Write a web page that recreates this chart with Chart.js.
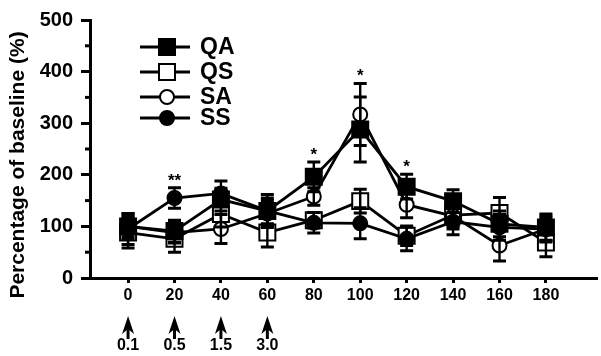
<!DOCTYPE html>
<html>
<head>
<meta charset="utf-8">
<script src="https://cdn.jsdelivr.net/npm/chart.js@4/dist/chart.umd.min.js"></script>
<style>
  html, body { margin: 0; padding: 0; background: #fff; }
  #wrap { width: 601px; height: 356px; }
</style>
</head>
<body>
<div id="wrap"><canvas id="chart"></canvas></div>
<script>
// time after first injection (min)
const times = [0, 20, 40, 60, 80, 100, 120, 140, 160, 180];

// percentage of baseline
const qa = [100, 91, 152, 130, 196, 288, 177, 149, 105, 98];
const qs = [88, 76, 124, 88, 112, 149, 82, 122, 126, 69];
const sa = [100, 88, 95, 125, 158, 317, 142, 120, 63, 95];
const ss = [95, 155, 164, 130, 107, 106, 76, 109, 98, 95];

// error bars (+/-)
const qaErr = [20, 21, 22, 25, 29, 63, 24, 22, 25, 26];
const qsErr = [30, 26, 25, 28, 15, 23, 19, 22, 30, 28];
const saErr = [25, 20, 28, 25, 17, 60, 25, 25, 30, 25];
const ssErr = [30, 20, 24, 32, 20, 30, 23, 25, 25, 22];

const seriesNames = ['QA', 'QS', 'SA', 'SS'];
const yTicks = [0, 100, 200, 300, 400, 500];
const yMinorTicks = [50, 150, 250, 350, 450];

// doses (arrows under the axis)
const doseTimes = [0, 20, 40, 60];
const doseLabels = ['0.1', '0.5', '1.5', '3.0'];

// significance marks
const sigTimes = [20, 80, 100, 120];
const sigMarks = ['**', '*', '*', '*'];

const FONT = '"Liberation Sans", Arial, sans-serif';

function pts(vals) {
    return times.map((t, i) => ({ x: t, y: vals[i] }));
}

function makeSet(label, vals, errs, style, filled, radius, order) {
    return {
        label: label,
        data: pts(vals),
        err: errs,
        order: order,
        borderColor: '#000',
        borderWidth: 2.8,
        backgroundColor: filled ? '#000' : '#fff',
        pointStyle: style,
        pointRadius: radius,
        pointBorderWidth: 2,
        pointBackgroundColor: filled ? '#000' : '#fff',
        pointBorderColor: '#000',
        tension: 0
    };
}

const extras = {
    id: 'extras',
    afterDatasetsDraw(chart) {
        const ctx = chart.ctx;
        const xs = chart.scales.x, ys = chart.scales.y;
        ctx.save();
        ctx.strokeStyle = '#000';
        chart.data.datasets.forEach(ds => {
            ds.data.forEach((p, i) => {
                const x = xs.getPixelForValue(p.x);
                const hi = ys.getPixelForValue(p.y + ds.err[i]);
                const lo = ys.getPixelForValue(p.y - ds.err[i]);
                ctx.lineWidth = 2.4;
                ctx.beginPath();
                ctx.moveTo(x, hi); ctx.lineTo(x, lo);
                ctx.stroke();
                ctx.lineWidth = 3;
                ctx.beginPath();
                ctx.moveTo(x - 6.5, hi); ctx.lineTo(x + 6.5, hi);
                ctx.moveTo(x - 6.5, lo); ctx.lineTo(x + 6.5, lo);
                ctx.stroke();
            });
        });
        ctx.restore();
    },
    afterDraw(chart) {
        const ctx = chart.ctx;
        const xs = chart.scales.x, ys = chart.scales.y;
        const area = chart.chartArea;
        ctx.save();
        ctx.fillStyle = '#000';
        ctx.strokeStyle = '#000';

        // minor y ticks
        ctx.lineWidth = 3;
        yMinorTicks.forEach(v => {
            const y = ys.getPixelForValue(v);
            ctx.beginPath();
            ctx.moveTo(area.left - 5, y); ctx.lineTo(area.left, y);
            ctx.stroke();
        });

        // y title
        ctx.save();
        ctx.translate(18, 165);
        ctx.rotate(-Math.PI / 2);
        ctx.font = 'bold 21px ' + FONT;
        ctx.textAlign = 'center';
        ctx.textBaseline = 'middle';
        ctx.fillText('Percentage of baseline (%)', 0, 0);
        ctx.restore();

        // significance marks above the highest error bar
        ctx.font = 'bold 17px ' + FONT;
        ctx.textAlign = 'center';
        ctx.textBaseline = 'alphabetic';
        sigTimes.forEach((t, k) => {
            const i = times.indexOf(t);
            let top = 0;
            chart.data.datasets.forEach(ds => {
                top = Math.max(top, ds.data[i].y + ds.err[i]);
            });
            const y = ys.getPixelForValue(top) - 11;
            ctx.fillText(sigMarks[k], xs.getPixelForValue(t), y + 9);
        });

        // dose arrows
        doseTimes.forEach((t, k) => {
            const x = xs.getPixelForValue(t);
            ctx.lineWidth = 3;
            ctx.beginPath();
            ctx.moveTo(x, 339); ctx.lineTo(x, 326);
            ctx.stroke();
            ctx.beginPath();
            ctx.moveTo(x, 316);
            ctx.lineTo(x + 6, 334);
            ctx.lineTo(x, 329);
            ctx.lineTo(x - 6, 334);
            ctx.closePath();
            ctx.fill();
            ctx.font = 'bold 16px ' + FONT;
            ctx.textAlign = 'center';
            ctx.textBaseline = 'middle';
            ctx.fillText(doseLabels[k], x, 346);
        });

        // legend
        const rows = [47, 72, 97, 118];
        seriesNames.forEach((name, k) => {
            const ds = chart.data.datasets.find(d => d.label === name);
            const y = rows[k];
            ctx.lineWidth = 2.8;
            ctx.beginPath();
            ctx.moveTo(140, y); ctx.lineTo(190, y);
            ctx.stroke();
            ctx.fillStyle = ds.pointBackgroundColor;
            ctx.lineWidth = 2;
            ctx.beginPath();
            if (ds.pointStyle === 'rect') {
                ctx.rect(167 - 8, y - 8, 16, 16);
            } else {
                ctx.arc(167, y, 7, 0, Math.PI * 2);
            }
            ctx.fill();
            ctx.stroke();
            ctx.fillStyle = '#000';
            ctx.font = 'bold 23px ' + FONT;
            ctx.textAlign = 'left';
            ctx.textBaseline = 'middle';
            ctx.fillText(name, 200, y + 1);
        });
        ctx.restore();
    }
};

new Chart(document.getElementById('chart').getContext('2d'), {
    type: 'line',
    data: {
        datasets: [
            makeSet('QA', qa, qaErr, 'rect', true, 11.3, 1),
            makeSet('QS', qs, qsErr, 'rect', false, 11.3, 3),
            makeSet('SA', sa, saErr, 'circle', false, 7, 2),
            makeSet('SS', ss, ssErr, 'circle', true, 7, 0)
        ]
    },
    options: {
        responsive: true,
        maintainAspectRatio: false,
        animation: false,
        layout: { autoPadding: false, padding: { top: 16, right: 4, left: 0, bottom: 0 } },
        plugins: { legend: { display: false }, tooltip: { enabled: false } },
        scales: {
            x: {
                type: 'linear',
                min: -16.4,
                max: 202,
                afterBuildTicks: s => { s.ticks = times.map(v => ({ value: v })); },
                afterFit: s => { s.height = 78; },
                grid: { drawOnChartArea: false, tickLength: 5, tickWidth: 3, tickColor: '#000' },
                border: { color: '#000', width: 3 },
                ticks: {
                    color: '#000', padding: 3, maxRotation: 0, autoSkip: false,
                    font: { family: FONT, size: 16, weight: 'bold' }
                }
            },
            y: {
                min: 0,
                max: 500,
                afterBuildTicks: s => { s.ticks = yTicks.map(v => ({ value: v })); },
                afterFit: s => { s.width = 90; },
                grid: { drawOnChartArea: false, tickLength: 9, tickWidth: 3, tickColor: '#000' },
                border: { color: '#000', width: 3 },
                ticks: {
                    color: '#000', padding: 8,
                    font: { family: FONT, size: 20, weight: 'bold' }
                }
            }
        }
    },
    plugins: [extras]
});
</script>
</body>
</html>
